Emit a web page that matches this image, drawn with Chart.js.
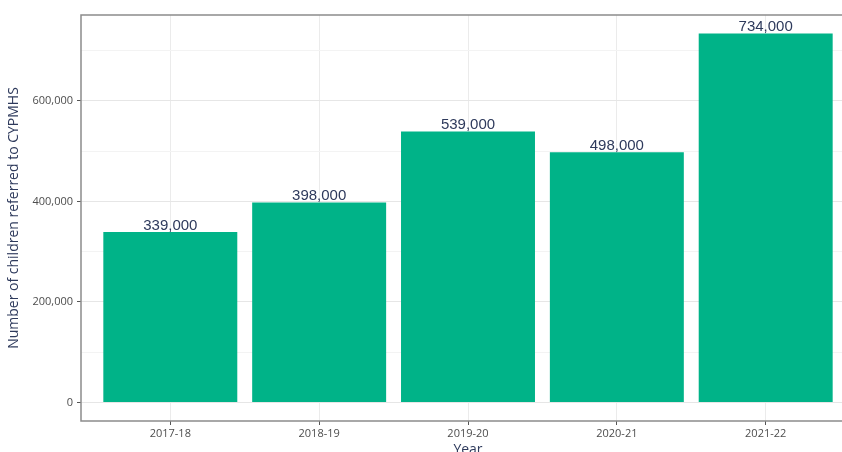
<!DOCTYPE html>
<html>
<head>
<meta charset="utf-8">
<script src="https://cdn.jsdelivr.net/npm/chart.js@4"></script>
<style>
  html, body { margin: 0; padding: 0; background: #fff; overflow: hidden; }
  #wrap { width: 862px; height: 458px; }
</style>
</head>
<body>
<div id="wrap"><canvas id="plot-cypmhs" width="862" height="458" style="width:862px;height:458px;"></canvas></div>
<script>
// data
const years = ['2017-18', '2018-19', '2019-20', '2020-21', '2021-22'];
const referrals = [339000, 398000, 539000, 498000, 734000];
const yTickValues = [0, 100000, 200000, 300000, 400000, 500000, 600000, 700000];
const yMajorTicks = [0, 200000, 400000, 600000];

const barColor = '#00b388';
const textNavy = '#2e3a5c';
const tickGrey = '#4d4d4d';

function fmt(v) {
    return v.toLocaleString('en-GB');
}

// value labels above each bar
const barLabels = {
    id: 'barLabels',
    afterDatasetsDraw(chart) {
        let ctx = chart.ctx;
        let meta = chart.getDatasetMeta(0);
        ctx.save();
        ctx.font = '15px "Liberation Sans", Arial, sans-serif';
        ctx.fillStyle = textNavy;
        ctx.textAlign = 'center';
        ctx.textBaseline = 'bottom';
        meta.data.forEach((bar, i) => {
            ctx.fillText(fmt(referrals[i]), bar.x, bar.y + 1);
        });
        ctx.restore();
    }
};

// panel border like theme_bw (right side runs off the picture)
const panelBorder = {
    id: 'panelBorder',
    afterDraw(chart) {
        let a = chart.chartArea;
        let ctx = chart.ctx;
        ctx.save();
        ctx.strokeStyle = '#8c8c8c';
        ctx.lineWidth = 1.5;
        ctx.beginPath();
        ctx.moveTo(a.right, a.top);
        ctx.lineTo(a.left, a.top);
        ctx.lineTo(a.left, a.bottom);
        ctx.lineTo(a.right, a.bottom);
        ctx.stroke();
        ctx.restore();
    }
};

let ctx = document.getElementById('plot-cypmhs');
var chart = new Chart(ctx, {
    type: 'bar',
    data: {
        datasets: [
            {
                label: 'Referrals',
                data: referrals.map((v, i) => ({ x: i + 1, y: v })),
                backgroundColor: barColor,
                borderWidth: 0,
                barPercentage: 0.9,
                categoryPercentage: 1.0
            }
        ]
    },
    options: {
        responsive: false,
        animation: false,
        layout: { padding: { top: 15, right: 7, left: 0, bottom: 0 } },
        scales: {
            x: {
                type: 'linear',
                min: 0.4,
                max: 5.6,
                offset: false,
                afterBuildTicks: (scale) => { scale.ticks = years.map((y, i) => ({ value: i + 1 })); },
                afterFit: (scale) => { scale.height = 37; },
                ticks: {
                    callback: (v) => years[v - 1],
                    font: { family: '"Open Sans", sans-serif', size: 11 },
                    color: tickGrey,
                    padding: 2,
                    maxRotation: 0
                },
                grid: { color: '#ebebeb', tickColor: '#555', tickLength: 4, offset: false },
                border: { display: false },
                title: {
                    display: true,
                    text: 'Year',
                    font: { family: '"Open Sans", sans-serif', size: 14 },
                    color: textNavy,
                    padding: { top: 0, bottom: 0 }
                }
            },
            y: {
                min: -36700,
                max: 770700,
                afterBuildTicks: (scale) => { scale.ticks = yTickValues.map(v => ({ value: v })); },
                afterFit: (scale) => { scale.width = 81; },
                ticks: {
                    callback: (v) => yMajorTicks.includes(v) ? fmt(v) : '',
                    font: { family: '"Open Sans", sans-serif', size: 11 },
                    color: tickGrey,
                    padding: 4
                },
                grid: {
                    color: (c) => yMajorTicks.includes(c.tick.value) ? '#e6e6e6' : '#f3f3f3',
                    tickColor: (c) => yMajorTicks.includes(c.tick.value) ? '#555' : 'rgba(0,0,0,0)',
                    tickLength: 4
                },
                border: { display: false },
                title: {
                    display: true,
                    text: 'Number of children referred to CYPMHS',
                    font: { family: '"Open Sans", sans-serif', size: 14 },
                    color: textNavy,
                    padding: { top: 6, bottom: 0 }
                }
            }
        },
        plugins: {
            legend: { display: false },
            tooltip: { enabled: false }
        }
    },
    plugins: [barLabels, panelBorder]
});
</script>
</body>
</html>
